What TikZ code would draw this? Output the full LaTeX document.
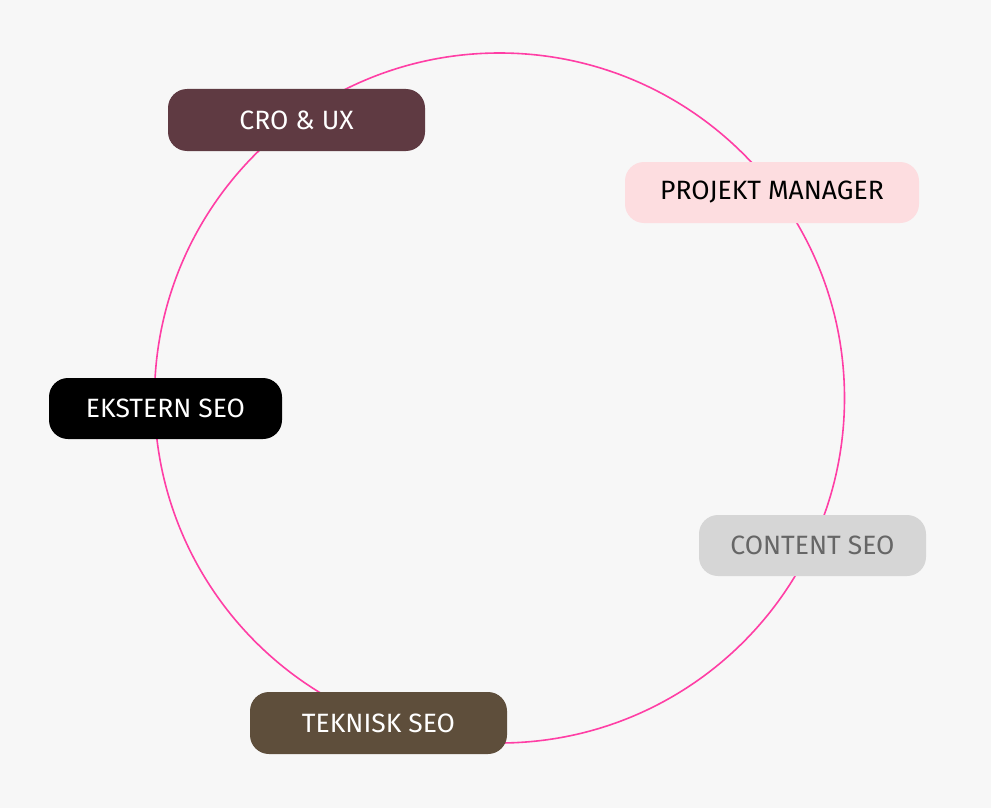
\documentclass[tikz,border=0pt]{standalone}
\usepackage{fontspec}
\setmainfont{Fira Sans}
\definecolor{bgc}{HTML}{F7F7F7}
\definecolor{ringc}{HTML}{FF3EA5}
\definecolor{croc}{HTML}{5F3A42}
\definecolor{pmc}{HTML}{FDDDE0}
\definecolor{contc}{HTML}{D6D6D6}
\definecolor{contt}{HTML}{666666}
\definecolor{tekc}{HTML}{5E4E3B}
\begin{document}
\begin{tikzpicture}[x=1pt,y=-1pt,
  tag/.style={rounded corners=19pt, inner sep=0pt, font=\fontsize{26.5}{30}\selectfont}]
\fill[bgc] (0,0) rectangle (991,808);
\useasboundingbox (0,0) rectangle (991,808);
\coordinate (c) at (499.5,398);
\draw[ringc, line width=1.6pt] (c) circle[radius=345];
\node[tag, fill=croc, text=white, minimum width=257pt, minimum height=62pt] (cro) at (296.5,120) {CRO \& UX};
\node[tag, fill=pmc, text=black, minimum width=294pt, minimum height=61pt] (pm) at (772,192.5) {PROJEKT MANAGER};
\node[tag, fill=black, text=white, minimum width=233pt, minimum height=61pt] (ext) at (165.5,408.5) {EKSTERN SEO};
\node[tag, fill=contc, text=contt, minimum width=227pt, minimum height=61pt] (cont) at (812.5,545.5) {CONTENT SEO};
\node[tag, fill=tekc, text=white, minimum width=257pt, minimum height=62pt] (tek) at (378.5,723) {TEKNISK SEO};
\end{tikzpicture}
\end{document}
